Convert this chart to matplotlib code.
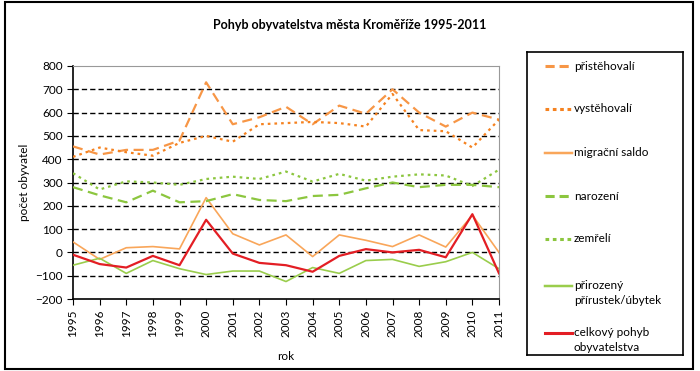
import numpy as np
import matplotlib
matplotlib.use("Agg")
import matplotlib.pyplot as plt
from matplotlib.lines import Line2D
from matplotlib.patches import Rectangle

plt.rcParams["font.family"] = ["Lato", "DejaVu Sans"]

years = list(range(1995, 2012))
pristehovali = [455, 420, 440, 440, 480, 730, 550, 580, 625, 550, 630, 595, 700, 600, 540, 600, 570]
vystehovali = [410, 450, 430, 415, 470, 500, 475, 550, 555, 560, 555, 540, 680, 525, 520, 450, 570]
migracni_saldo = [45, -30, 20, 25, 15, 235, 80, 32, 75, -18, 75, 52, 25, 75, 23, 160, 0]
narozeni = [280, 245, 215, 265, 215, 220, 250, 225, 220, 242, 247, 275, 300, 280, 290, 290, 280]
zemreli = [340, 270, 305, 300, 290, 315, 325, 315, 347, 304, 337, 308, 325, 335, 330, 285, 355]
prirozeny = [-55, -25, -90, -35, -70, -95, -80, -80, -125, -65, -90, -35, -30, -60, -40, 0, -70]
celkovy = [-10, -50, -65, -15, -55, 140, -5, -45, -55, -83, -15, 14, 0, 11, -21, 164, -90]

LONG = (0, (4.5, 2.5))
DOT = (0, (1.2, 1.8))
series = [
    ("přistěhovalí", pristehovali, "#F79646", LONG, 1.6),
    ("vystěhovalí", vystehovali, "#F58220", DOT, 1.6),
    ("migrační saldo", migracni_saldo, "#F9A65A", "-", 1.2),
    ("narození", narozeni, "#8CC63F", LONG, 1.6),
    ("zemřelí", zemreli, "#8CC63F", DOT, 1.6),
    ("přirozený\npřírustek/úbytek", prirozeny, "#9ACD4C", "-", 1.2),
    ("celkový pohyb\nobyvatelstva", celkovy, "#E31E24", "-", 1.6),
]

fig = plt.figure(figsize=(7, 3.71), dpi=100)
fig.patches.append(Rectangle((5 / 700, 2 / 371), 688 / 700, 367 / 371, transform=fig.transFigure,
                             fill=False, edgecolor="black", linewidth=1.5))

ax = fig.add_axes([73 / 700, (371 - 299) / 371, (499 - 73) / 700, (299 - 66) / 371])
x = np.arange(len(years))
for label, vals, color, ls, lw in series:
    ax.plot(x, vals, color=color, linestyle=ls, linewidth=lw, zorder=3)

ax.set_ylim(-200, 800)
ax.set_xlim(0, len(years) - 1)
ax.set_yticks(range(-200, 801, 100))
ax.set_xticks(x)
ax.set_xticklabels([str(y) for y in years], rotation=90, fontsize=8.5)
ax.tick_params(axis="y", labelsize=8.5, length=4, direction="out")
ax.tick_params(axis="x", length=4, direction="out")
for v in range(-100, 800, 100):
    ax.axhline(v, color="black", linestyle=(0, (3.8, 2.2)), linewidth=1.0, zorder=1)
ax.spines["top"].set_color("#999999")
ax.spines["right"].set_color("#999999")
ax.spines["left"].set_linewidth(1.2)
ax.spines["bottom"].set_linewidth(1.2)
ax.set_ylabel("počet obyvatel", fontsize=8.5, labelpad=4)
ax.set_xlabel("rok", fontsize=8.5, labelpad=10)

fig.text(350 / 700, 1 - 25 / 371, "Pohyb obyvatelstva města Kroměříže 1995-2011",
         ha="center", va="center", fontsize=9, fontweight="bold")

# legend box
lax = fig.add_axes([527 / 700, (371 - 355) / 371, (683 - 527) / 700, (355 - 52) / 371])
lax.set_xlim(527, 683)
lax.set_ylim(355, 52)
lax.set_xticks([])
lax.set_yticks([])
for s in lax.spines.values():
    s.set_linewidth(1.2)
label_y = [66, 109, 153, 196, 239, 293, 340]
legend_ls = {LONG: (0, (3.0, 1.6)), DOT: (0, (1.2, 1.2))}
for (label, vals, color, ls, lw), yy in zip(series, label_y):
    ly = yy if "\n" not in label else yy - 7
    hls = legend_ls.get(ls, ls)
    lax.add_line(Line2D([545, 572], [ly, ly], color=color, linestyle=hls, linewidth=lw + 0.6))
    lax.text(574, yy, label, va="center", ha="left", fontsize=8.5, linespacing=1.4)

fig.savefig("out.png", dpi=100)
